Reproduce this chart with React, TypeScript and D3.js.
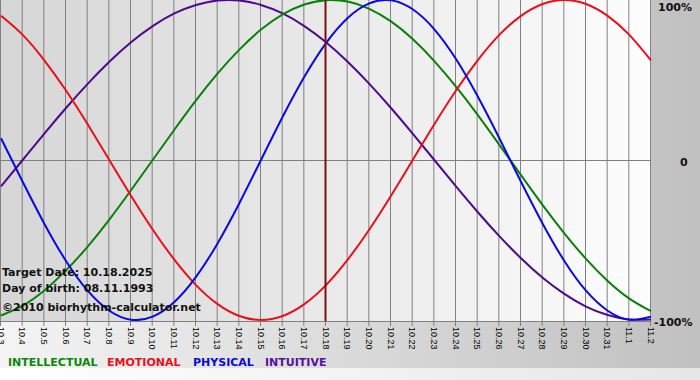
import React from "react";
import * as d3 from "d3";

const dates = ["10.3","10.4","10.5","10.6","10.7","10.8","10.9","10.10","10.11","10.12","10.13","10.14","10.15","10.16","10.17","10.18","10.19","10.20","10.21","10.22","10.23","10.24","10.25","10.26","10.27","10.28","10.29","10.30","10.31","11.1","11.2"];
const physical = [0.136,-0.136,-0.398,-0.631,-0.817,-0.942,-0.998,-0.979,-0.888,-0.731,-0.52,-0.27,0,0.27,0.52,0.731,0.888,0.979,0.998,0.942,0.817,0.631,0.398,0.136,-0.136,-0.398,-0.631,-0.817,-0.942,-0.998,-0.979];
const emotional = [0.901,0.782,0.623,0.434,0.223,0,-0.223,-0.434,-0.623,-0.782,-0.901,-0.975,-1,-0.975,-0.901,-0.782,-0.623,-0.434,-0.223,0,0.223,0.434,0.623,0.782,0.901,0.975,1,0.975,0.901,0.782,0.623];
const intellectual = [-0.972,-0.91,-0.815,-0.69,-0.541,-0.372,-0.189,0,0.189,0.372,0.541,0.69,0.815,0.91,0.972,0.999,0.99,0.945,0.866,0.756,0.618,0.458,0.282,0.095,-0.095,-0.282,-0.458,-0.618,-0.756,-0.866,-0.945];
const intuitive = [-0.165,0,0.165,0.325,0.476,0.614,0.736,0.837,0.916,0.969,0.997,0.997,0.969,0.916,0.837,0.736,0.614,0.476,0.325,0.165,0,-0.165,-0.325,-0.476,-0.614,-0.736,-0.837,-0.916,-0.969,-0.997,-0.997];
const targetIndex = 15;
const yTicks = [
  { v: 1, label: "100%" },
  { v: 0, label: "0" },
  { v: -1, label: "-100%" },
];
const legend = [
  { name: "INTELLECTUAL", color: "#0a870a" },
  { name: "EMOTIONAL", color: "#e8101a" },
  { name: "PHYSICAL", color: "#0a0ad0" },
  { name: "INTUITIVE", color: "#55109a" },
];
const series = [
  { values: intuitive, color: "#4f0a8c" },
  { values: intellectual, color: "#0a800a" },
  { values: emotional, color: "#e8101a" },
  { values: physical, color: "#0a0ae0" },
];
const infoLines = ["Target Date: 10.18.2025", "Day of birth: 08.11.1993", "©2010 biorhythm-calculator.net"];

export default function App() {
  const W = 700, H = 380;
  const plotL = 0, plotR = 651, plotT = 0, plotB = 321;
  const x = d3.scaleLinear().domain([0, dates.length - 1]).range([1, 651]);
  const y = d3.scaleLinear().domain([-1, 1]).range([320, 0]);
  const line = d3.line<number>().x((_, i) => x(i)).y((d) => y(d)).curve(d3.curveNatural);
  const font = "'DejaVu Sans', Verdana, sans-serif";

  return (
    <svg width={W} height={H} style={{ position: "absolute", left: 0, top: 0, display: "block" }} fontFamily={font}>
      <defs>
        <linearGradient id="outer" x1="0" x2="1" y1="0" y2="0">
          <stop offset="0" stopColor="#f4f4f4" />
          <stop offset="1" stopColor="#c0c0c0" />
        </linearGradient>
        <linearGradient id="bottomStrip" x1="0" x2="1" y1="0" y2="0">
          <stop offset="0" stopColor="#ffffff" />
          <stop offset="1" stopColor="#e6e6e6" />
        </linearGradient>
        <linearGradient id="plotBg" x1="0" x2="1" y1="0" y2="0">
          <stop offset="0" stopColor="#d6d6d6" />
          <stop offset="1" stopColor="#fdfdfd" />
        </linearGradient>
        <clipPath id="plotClip">
          <rect x={plotL} y={plotT} width={plotR - plotL + 1} height={plotB - plotT} />
        </clipPath>
      </defs>
      <rect x={0} y={0} width={W} height={H} fill="url(#outer)" />
      <rect x={0} y={368} width={W} height={H - 368} fill="url(#bottomStrip)" />
      <rect x={plotL} y={plotT} width={plotR - plotL} height={plotB - plotT} fill="url(#plotBg)" />
      {dates.map((d, i) => (
        <g key={d}>
          <line x1={x(i) - 0.5} x2={x(i) - 0.5} y1={plotT} y2={plotB + 5} stroke="#808080" strokeWidth={1} />
          <text
            transform={`translate(${x(i) - 3.5},${plotB + 6}) rotate(90)`}
            fontSize={9}
            fontFamily="'Liberation Sans', Arial, sans-serif"
            fill="#000"
          >
            {d}
          </text>
        </g>
      ))}
      <line x1={plotL} x2={plotR} y1={y(0) + 0.5} y2={y(0) + 0.5} stroke="#808080" />
      <line x1={plotL} x2={plotR} y1={plotB + 0.5} y2={plotB + 0.5} stroke="#808080" />
      <g clipPath="url(#plotClip)">
        {series.map((s, k) => (
          <path key={k} d={line(s.values) || ""} fill="none" stroke={s.color} strokeWidth={2} />
        ))}
      </g>
      <line x1={x(targetIndex) - 0.5} x2={x(targetIndex) - 0.5} y1={plotT} y2={plotB} stroke="#7a1010" strokeWidth={2} />
      {yTicks.map((t) => (
        <text
          key={t.label}
          x={t.v === 0 ? 680 : t.v > 0 ? 658 : 654}
          y={t.v === 1 ? 11 : t.v === 0 ? 166 : 326}
          fontSize={11}
          fontWeight="bold"
          fill="#111"
        >
          {t.label}
        </text>
      ))}
      {infoLines.map((s, i) => (
        <text key={s} x={2} y={276 + i * 16 + (i === 2 ? 3 : 0)} fontSize={11} fontWeight="bold" fill="#111">
          {s}
        </text>
      ))}
      {(() => {
        let cx = 8;
        const widths = [99, 86, 72, 70];
        return legend.map((l, i) => {
          const el = (
            <text key={l.name} x={cx} y={366} fontSize={11} fontWeight="bold" fill={l.color}>
              {l.name}
            </text>
          );
          cx += widths[i];
          return el;
        });
      })()}
    </svg>
  );
}
